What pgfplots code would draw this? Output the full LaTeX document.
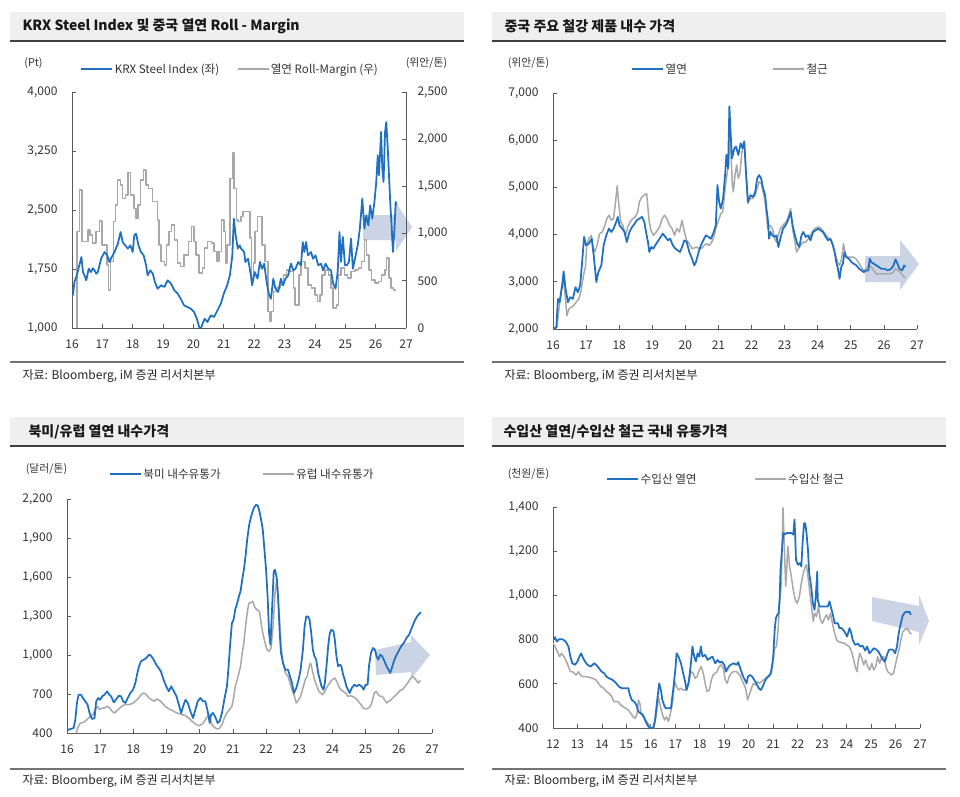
\documentclass[border=0pt]{standalone}
\usepackage{fontspec}
\setmainfont{Noto Sans CJK KR}
\usepackage{pgfplots}
\pgfplotsset{compat=1.18}
\definecolor{cblue}{HTML}{1F70C1}
\definecolor{cgray}{HTML}{A8A8A8}
\definecolor{axgray}{HTML}{595959}
\definecolor{titlebg}{HTML}{EFEFEF}
\definecolor{arrowc}{HTML}{CAD4E4}
\definecolor{lbl}{HTML}{333333}
\pgfplotsset{
  base/.style={
    scale only axis, anchor=south west,
    axis line style={axgray, line width=0.8pt, -},
    tick style={axgray, line width=0.8pt}, tick align=inside, major tick length=4pt,
    ticklabel style={font=\fontsize{12}{14}\selectfont, text=lbl},
    /pgf/number format/assume math mode=true,
    /pgf/number format/1000 sep={,},
    xticklabel style={yshift=-8pt},
    clip=true,
    legend columns=2,
    legend image code/.code={\draw[##1] (0pt,0pt) -- (31pt,0pt);},
    legend style={draw=none, fill=none, inner sep=0pt, nodes={inner sep=1.5pt}, anchor=west,
      font=\fontsize{11.6}{13}\selectfont, text=lbl},
  },
  lefty/.style={axis x line*=bottom, axis y line*=left, yticklabel style={xshift=-11pt}},
  blueline/.style={cblue, line width=1.75pt, line join=round},
  grayline/.style={cgray, line width=1.5pt, line join=round},
}
\newcommand{\ttl}[2]{\node[anchor=west, font=\bfseries\fontsize{14}{16}\selectfont, text=black!90] at #1 {#2};}
\newcommand{\src}[1]{\node[anchor=west, font=\fontsize{12}{14}\selectfont, text=black!85] at #1 {자료: Bloomberg, iM 증권 리서치본부};}
\newcommand{\unit}[2]{\node[font=\fontsize{10.8}{12}\selectfont, text=lbl] at #1 {#2};}
\begin{document}
\begin{tikzpicture}
\useasboundingbox (0,0) rectangle (960pt,-796pt);
\fill[white] (0,0) rectangle (960pt,-796pt);
% title boxes and separators
\fill[titlebg] (10pt,-12pt) rectangle (463.5pt,-41pt);
\fill[titlebg] (492pt,-12pt) rectangle (945.5pt,-41pt);
\fill[titlebg] (10pt,-417pt) rectangle (463.5pt,-446pt);
\fill[titlebg] (492pt,-417pt) rectangle (945.5pt,-446pt);
\draw[black!75, line width=1.4pt] (10pt,-41pt) -- (463.5pt,-41pt);
\draw[black!75, line width=1.4pt] (492pt,-41pt) -- (945.5pt,-41pt);
\draw[black!75, line width=1.4pt] (10pt,-446pt) -- (463.5pt,-446pt);
\draw[black!75, line width=1.4pt] (492pt,-446pt) -- (945.5pt,-446pt);
\draw[black!55, line width=1.1pt] (10pt,-362pt) -- (463.5pt,-362pt);
\draw[black!55, line width=1.1pt] (492pt,-362pt) -- (945.5pt,-362pt);
\draw[black!55, line width=1.1pt] (10pt,-769pt) -- (463.5pt,-769pt);
\draw[black!55, line width=1.1pt] (492pt,-769pt) -- (945.5pt,-769pt);
\ttl{(19pt,-26pt)}{KRX Steel Index 및 중국 열연 Roll - Margin}
\ttl{(501pt,-26pt)}{중국 주요 철강 제품 내수 가격}
\ttl{(25pt,-432pt)}{북미/유럽 열연 내수가격}
\ttl{(500pt,-432pt)}{수입산 열연/수입산 철근 국내 유통가격}
\src{(19pt,-376pt)}
\src{(501pt,-376pt)}
\src{(19pt,-781pt)}
\src{(501pt,-781pt)}
\unit{(33.5pt,-63pt)}{(Pt)}
\unit{(426.5pt,-63pt)}{(위안/톤)}
\unit{(528.5pt,-63pt)}{(위안/톤)}
\unit{(46.5pt,-469pt)}{(달러/톤)}
\unit{(528.5pt,-474pt)}{(천원/톤)}
% arrows
\fill[arrowc] (363pt,-215pt) -- (396pt,-215pt) -- (396pt,-203pt) -- (412pt,-227pt) -- (396pt,-251pt) -- (396pt,-240pt) -- (363pt,-240pt) -- cycle;
\fill[arrowc] (865pt,-256pt) -- (900pt,-256pt) -- (900pt,-240pt) -- (919pt,-264pt) -- (900pt,-290pt) -- (900pt,-282pt) -- (865pt,-282pt) -- cycle;
\fill[arrowc] (375pt,-650pt) -- (411pt,-642pt) -- (411pt,-635pt) -- (430pt,-655pt) -- (411pt,-679pt) -- (411pt,-672pt) -- (376pt,-675pt) -- cycle;
\fill[arrowc] (872pt,-597pt) -- (919pt,-606pt) -- (919pt,-595pt) -- (929pt,-621pt) -- (919pt,-645pt) -- (919pt,-632pt) -- (872pt,-621pt) -- cycle;

% ---------------- Panel 1 : right axis (Roll-Margin)
\begin{axis}[base, at={(72pt,-328pt)}, width=334pt, height=236pt,
  xmin=16, xmax=27, ymin=0, ymax=2500, ytick={0,500,...,2500},
  axis x line=none, axis y line*=right, yticklabel style={xshift=8pt}]
\addplot[grayline, const plot] coordinates {
(16.15,0) (16.16,1021) (16.25,1461) (16.33,915) (16.52,1039) (16.6,986) (16.68,898) (16.79,1021) (16.91,1134) (16.99,880) (17.16,669) (17.2,405) (17.26,704) (17.37,1127) (17.43,1303) (17.5,1567) (17.59,1514) (17.67,1373) (17.76,1408) (17.85,1648) (17.93,1408) (18.04,1268) (18.11,1162) (18.17,1303) (18.25,1567) (18.36,1672) (18.44,1514) (18.52,1479) (18.65,1338) (18.73,1338) (18.82,1144) (18.87,880) (18.93,704) (19.04,669) (19.11,880) (19.2,1021) (19.28,1092) (19.37,933) (19.48,687) (19.58,651) (19.69,775) (19.83,915) (19.93,1074) (20.02,915) (20.08,775) (20.19,581) (20.3,634) (20.37,845) (20.46,915) (20.59,898) (20.68,810) (20.77,704) (20.84,810) (20.92,1144) (21.01,1021) (21.06,687) (21.11,880) (21.2,1584) (21.28,1853) (21.34,1479) (21.42,1144) (21.47,1127) (21.56,1180) (21.63,1232) (21.86,951) (21.91,528) (21.97,687) (22.02,1021) (22.11,1180) (22.26,880) (22.35,704) (22.46,176) (22.52,70) (22.57,176) (22.63,387) (22.74,422) (22.85,458) (22.96,563) (23.07,616) (23.18,599) (23.29,422) (23.34,246) (23.47,563) (23.54,704) (23.67,634) (23.78,458) (23.89,422) (24.0,352) (24.09,282) (24.16,352) (24.24,563) (24.33,616) (24.44,563) (24.53,422) (24.6,211) (24.71,246) (24.77,563) (24.86,634) (24.97,563) (25.08,528) (25.19,599) (25.32,616) (25.43,634) (25.54,704) (25.63,933) (25.7,775) (25.78,616) (25.87,511) (25.98,475) (26.09,493) (26.2,563) (26.31,616) (26.36,739) (26.44,528) (26.51,422) (26.58,405) (26.66,394)
};
\end{axis}
% ---------------- Panel 1 : left axis (KRX)
\begin{axis}[base, lefty, at={(72pt,-328pt)}, width=334pt, height=236pt,
  xmin=16, xmax=27, ymin=1000, ymax=4000, xtick={16,...,27}, ytick={1000,1750,2500,3250,4000},
  legend style={at={(0.025,1.0975)}, /tikz/every even column/.append style={column sep=16pt}}]
\addplot[blueline] coordinates {
(16.03,1415) (16.08,1585) (16.14,1650) (16.2,1733) (16.31,1903) (16.36,1712) (16.42,1660) (16.47,1606) (16.55,1754) (16.63,1712) (16.69,1760) (16.74,1733) (16.8,1690) (16.85,1712) (16.96,1881) (17.07,1966) (17.16,1924) (17.23,1839) (17.31,1903) (17.4,1966) (17.51,2072) (17.6,2220) (17.67,2093) (17.75,2051) (17.84,2009) (17.92,2051) (18.0,1966) (18.05,2178) (18.11,2199) (18.19,2051) (18.27,1966) (18.36,1924) (18.44,1797) (18.49,1670) (18.58,1733) (18.66,1691) (18.73,1585) (18.82,1500) (18.93,1543) (19.04,1522) (19.15,1606) (19.26,1564) (19.37,1479) (19.48,1437) (19.58,1373) (19.69,1288) (19.8,1267) (19.91,1246) (20.02,1203) (20.11,1119) (20.19,1013) (20.24,990) (20.3,1055) (20.37,1119) (20.46,1076) (20.57,1161) (20.68,1140) (20.79,1224) (20.9,1309) (21.0,1437) (21.11,1543) (21.2,1670) (21.28,1924) (21.33,2390) (21.39,2178) (21.46,2009) (21.52,2051) (21.57,2009) (21.67,1966) (21.71,1839) (21.8,1881) (21.89,1670) (21.93,1543) (22.02,1712) (22.11,1627) (22.19,1839) (22.26,1754) (22.33,1818) (22.41,1585) (22.48,1437) (22.55,1373) (22.63,1627) (22.7,1500) (22.79,1458) (22.88,1627) (22.95,1543) (23.03,1627) (23.12,1670) (23.21,1818) (23.29,1733) (23.36,1754) (23.45,1839) (23.54,1797) (23.6,2093) (23.65,1966) (23.71,2093) (23.77,1924) (23.87,1966) (23.94,1881) (24.02,1924) (24.11,1797) (24.2,1818) (24.27,1733) (24.35,1818) (24.44,1754) (24.53,1733) (24.6,1564) (24.68,1500) (24.75,1712) (24.81,2220) (24.86,1839) (24.92,2157) (24.99,1797) (25.05,1797) (25.12,1839) (25.19,2136) (25.25,1754) (25.32,1881) (25.41,2051) (25.48,2263) (25.56,2644) (25.63,2263) (25.69,2432) (25.76,2305) (25.82,2559) (25.89,2390) (25.96,2602) (26.02,2856) (26.07,3195) (26.11,2941) (26.18,3492) (26.22,3025) (26.26,2856) (26.31,3492) (26.35,3619) (26.4,3280) (26.44,2941) (26.48,2602) (26.53,2263) (26.57,1966) (26.62,2263) (26.66,2602) (26.69,2559)
};
\addlegendentry{KRX Steel Index (좌)}
\addlegendimage{grayline}
\addlegendentry{열연 Roll-Margin (우)}
\end{axis}

% ---------------- Panel 2
\begin{axis}[base, lefty, at={(553pt,-329pt)}, width=364pt, height=236pt,
  xmin=16, xmax=27, ymin=2000, ymax=7000, xtick={16,...,27}, ytick={2000,3000,...,7000},
  legend style={at={(0.215,1.1017)}, /tikz/every even column/.append style={column sep=84pt}}]
\addplot[grayline, forget plot] coordinates {
(16.0,2000) (16.12,2035) (16.18,2425) (16.25,2851) (16.3,3064) (16.35,2851) (16.42,2284) (16.48,2425) (16.55,2461) (16.62,2496) (16.7,2567) (16.78,2638) (16.85,2815) (16.92,3134) (16.98,3312) (17.02,3773) (17.08,3914) (17.16,3985) (17.21,3737) (17.26,3631) (17.33,3773) (17.41,4021) (17.49,4056) (17.57,4198) (17.63,4340) (17.69,4411) (17.76,4304) (17.83,4340) (17.89,4694) (17.94,5035) (17.99,4623) (18.05,4269) (18.11,4198) (18.19,3985) (18.26,4162) (18.33,4269) (18.41,4340) (18.49,4375) (18.56,4481) (18.61,4694) (18.69,4800) (18.76,4836) (18.83,4871) (18.87,4552) (18.91,4269) (18.96,4092) (19.03,3985) (19.12,4056) (19.22,4162) (19.3,4340) (19.37,4411) (19.44,4340) (19.52,4198) (19.6,4127) (19.67,3985) (19.74,4127) (19.82,4056) (19.9,4304) (19.97,4056) (20.04,3879) (20.12,3808) (20.2,3702) (20.27,3716) (20.34,3737) (20.42,3702) (20.5,3716) (20.57,3773) (20.64,3808) (20.72,3773) (20.8,3843) (20.87,3985) (20.92,4127) (20.97,4233) (21.02,4340) (21.07,4446) (21.13,4481) (21.18,4836) (21.23,5120) (21.28,5403) (21.31,5474) (21.35,6183) (21.42,5049) (21.45,4907) (21.5,5261) (21.55,5474) (21.6,5190) (21.65,5297) (21.7,5687) (21.75,5935) (21.78,5985) (21.83,5332) (21.89,4659) (21.95,4765) (22.03,4765) (22.11,4836) (22.17,4978) (22.23,5120) (22.29,5084) (22.35,4907) (22.41,4694) (22.45,4411) (22.49,4127) (22.55,4198) (22.63,4127) (22.7,3914) (22.75,3843) (22.81,3985) (22.87,4127) (22.95,4198) (23.05,4269) (23.11,4375) (23.18,4552) (23.24,4127) (23.31,3843) (23.36,3631) (23.42,3702) (23.48,3773) (23.56,3843) (23.64,3843) (23.72,3914) (23.78,3985) (23.86,4092) (23.94,4141) (24.02,4162) (24.11,4127) (24.18,4056) (24.26,3985) (24.34,3914) (24.41,3879) (24.48,3702) (24.54,3560) (24.6,3418) (24.66,3347) (24.72,3489) (24.78,3808) (24.84,3560) (24.91,3524) (24.98,3524) (25.07,3524) (25.15,3489) (25.23,3418) (25.31,3312) (25.39,3241) (25.47,3276) (25.55,3347) (25.62,3312) (25.69,3241) (25.77,3170) (25.87,3170) (25.97,3170) (26.07,3170) (26.17,3170) (26.27,3191) (26.35,3276) (26.42,3241) (26.49,3205) (26.55,3149) (26.61,3099) (26.65,3085)
};
\addplot[blueline] coordinates {
(16.0,2000) (16.1,2035) (16.15,2638) (16.2,2567) (16.28,2922) (16.32,3220) (16.38,2851) (16.45,2567) (16.52,2674) (16.6,2638) (16.68,2886) (16.75,2780) (16.82,2922) (16.88,3418) (16.94,3950) (17.0,3773) (17.08,3808) (17.17,3914) (17.23,3560) (17.31,2993) (17.37,3205) (17.46,3347) (17.53,3773) (17.61,3985) (17.69,4127) (17.76,4056) (17.83,4127) (17.91,4269) (17.96,4375) (18.01,4198) (18.09,4127) (18.16,4056) (18.23,3843) (18.31,4056) (18.39,4162) (18.47,4233) (18.53,4304) (18.61,4340) (18.69,4375) (18.76,4269) (18.81,4056) (18.87,3843) (18.91,3631) (18.97,3737) (19.03,3702) (19.12,3808) (19.22,3914) (19.32,4021) (19.4,3950) (19.47,3879) (19.54,3914) (19.62,3773) (19.7,3702) (19.77,3666) (19.84,3631) (19.92,3773) (19.97,3879) (20.04,3843) (20.12,3631) (20.2,3489) (20.27,3347) (20.32,3418) (20.4,3631) (20.47,3773) (20.54,3879) (20.62,3985) (20.7,3950) (20.77,3914) (20.84,4021) (20.92,4198) (20.97,5049) (21.02,4694) (21.07,4552) (21.14,4765) (21.2,5261) (21.24,5687) (21.29,5403) (21.33,6715) (21.36,6254) (21.41,5616) (21.48,5829) (21.53,5864) (21.6,5687) (21.67,5935) (21.73,5829) (21.78,5970) (21.83,5332) (21.89,4694) (21.97,4836) (22.05,4800) (22.11,4907) (22.17,5190) (22.23,5261) (22.29,5190) (22.35,4978) (22.41,4836) (22.45,4552) (22.49,4340) (22.53,3914) (22.57,4056) (22.63,3985) (22.69,3950) (22.75,3985) (22.81,3737) (22.87,3914) (22.95,4127) (23.03,4198) (23.1,4304) (23.18,4481) (23.24,4198) (23.31,3985) (23.38,3808) (23.44,3737) (23.51,3985) (23.56,4056) (23.64,3950) (23.71,3985) (23.78,3879) (23.86,4056) (23.94,4092) (24.01,4127) (24.08,4092) (24.16,4056) (24.24,3950) (24.31,3879) (24.38,3914) (24.46,3773) (24.51,3631) (24.56,3418) (24.61,3276) (24.66,3064) (24.71,3312) (24.76,3383) (24.81,3631) (24.86,3524) (24.94,3489) (25.02,3418) (25.09,3383) (25.17,3347) (25.25,3276) (25.32,3241) (25.39,3205) (25.47,3241) (25.53,3241) (25.57,3489) (25.62,3418) (25.69,3383) (25.77,3347) (25.85,3312) (25.92,3276) (26.02,3276) (26.12,3241) (26.22,3276) (26.29,3347) (26.35,3475) (26.41,3383) (26.47,3276) (26.55,3241) (26.61,3347) (26.65,3312)
};
\addlegendentry{열연}
\addlegendimage{grayline}
\addlegendentry{철근}
\end{axis}

% ---------------- Panel 3
\begin{axis}[base, lefty, at={(67pt,-733pt)}, width=365pt, height=234pt,
  xmin=16, xmax=27, ymin=400, ymax=2200, xtick={16,...,27}, ytick={400,700,...,2200},
  legend style={at={(0.115,1.107)}, /tikz/every even column/.append style={column sep=40pt}}]
\addplot[grayline, forget plot] coordinates {
(16.28,400) (16.32,438) (16.4,477) (16.5,482) (16.6,503) (16.7,528) (16.78,541) (16.85,580) (16.92,605) (16.98,580) (17.06,592) (17.13,592) (17.21,605) (17.29,592) (17.36,567) (17.43,554) (17.51,574) (17.59,592) (17.67,610) (17.76,618) (17.86,618) (17.96,626) (18.06,644) (18.16,669) (18.23,695) (18.31,708) (18.39,695) (18.47,669) (18.55,656) (18.63,644) (18.71,662) (18.79,651) (18.87,631) (18.96,605) (19.07,585) (19.17,574) (19.27,559) (19.37,549) (19.47,541) (19.57,533) (19.67,515) (19.77,490) (19.87,469) (19.97,456) (20.05,464) (20.12,482) (20.2,515) (20.27,541) (20.32,503) (20.37,464) (20.44,444) (20.52,431) (20.6,436) (20.67,464) (20.74,515) (20.82,554) (20.9,580) (20.97,605) (21.02,669) (21.07,759) (21.13,810) (21.18,862) (21.23,913) (21.28,1015) (21.33,1092) (21.38,1220) (21.43,1323) (21.48,1400) (21.52,1400) (21.6,1413) (21.67,1361) (21.73,1349) (21.8,1336) (21.85,1246) (21.9,1169) (21.97,1092) (22.03,1041) (22.09,1028) (22.15,1054) (22.21,1220) (22.27,1477) (22.31,1567) (22.35,1477) (22.4,1297) (22.45,1067) (22.51,938) (22.58,862) (22.66,836) (22.72,785) (22.78,733) (22.84,695) (22.91,631) (22.98,656) (23.04,682) (23.11,746) (23.18,810) (23.24,836) (23.3,913) (23.34,938) (23.39,887) (23.46,810) (23.53,759) (23.59,721) (23.65,708) (23.71,695) (23.77,721) (23.85,759) (23.92,785) (23.99,810) (24.07,823) (24.13,797) (24.19,759) (24.25,733) (24.32,721) (24.39,708) (24.47,682) (24.55,687) (24.63,677) (24.7,669) (24.78,644) (24.86,618) (24.93,592) (25.0,585) (25.08,592) (25.14,605) (25.2,644) (25.26,708) (25.32,721) (25.38,695) (25.44,682) (25.5,682) (25.57,656) (25.63,631) (25.69,644) (25.75,651) (25.81,669) (25.89,687) (25.97,708) (26.04,728) (26.11,733) (26.19,759) (26.27,785) (26.34,815) (26.41,836) (26.47,823) (26.55,797) (26.6,785) (26.65,805)
};
\addplot[blueline] coordinates {
(16.0,420) (16.1,431) (16.2,438) (16.25,503) (16.3,631) (16.35,695) (16.42,695) (16.48,669) (16.55,644) (16.62,618) (16.68,554) (16.75,508) (16.83,515) (16.88,644) (16.94,669) (17.0,656) (17.06,682) (17.13,695) (17.21,721) (17.27,695) (17.33,682) (17.41,636) (17.49,662) (17.56,687) (17.63,682) (17.69,644) (17.76,631) (17.83,669) (17.91,708) (17.99,733) (18.06,785) (18.11,849) (18.17,913) (18.23,951) (18.31,964) (18.39,977) (18.47,1003) (18.53,995) (18.61,964) (18.69,926) (18.76,900) (18.83,874) (18.91,810) (18.99,759) (19.07,721) (19.14,759) (19.22,721) (19.3,682) (19.37,618) (19.44,554) (19.5,605) (19.57,656) (19.64,631) (19.72,567) (19.8,515) (19.87,580) (19.94,644) (20.02,669) (20.1,644) (20.17,644) (20.24,567) (20.3,477) (20.34,541) (20.4,554) (20.47,523) (20.54,477) (20.6,490) (20.67,554) (20.74,656) (20.82,759) (20.87,913) (20.92,1092) (20.97,1246) (21.02,1272) (21.07,1349) (21.13,1400) (21.18,1451) (21.23,1490) (21.28,1579) (21.33,1656) (21.38,1759) (21.43,1887) (21.49,2002) (21.55,2067) (21.63,2131) (21.7,2156) (21.75,2149) (21.8,2105) (21.85,2041) (21.9,1964) (21.95,1810) (22.0,1656) (22.05,1426) (22.09,1169) (22.13,1079) (22.17,1297) (22.23,1644) (22.27,1656) (22.33,1579) (22.37,1400) (22.41,1169) (22.45,1015) (22.51,938) (22.58,887) (22.66,887) (22.72,836) (22.78,785) (22.84,708) (22.91,746) (22.98,810) (23.04,887) (23.11,1041) (23.16,1220) (23.21,1297) (23.26,1297) (23.31,1272) (23.36,1169) (23.41,1041) (23.46,990) (23.51,964) (23.57,862) (23.62,810) (23.67,759) (23.73,733) (23.77,785) (23.82,913) (23.87,1067) (23.92,1169) (23.97,1195) (24.03,1182) (24.07,1118) (24.12,990) (24.17,913) (24.22,926) (24.27,913) (24.32,849) (24.37,810) (24.42,759) (24.47,733) (24.52,708) (24.58,746) (24.66,772) (24.73,759) (24.8,772) (24.88,759) (24.94,733) (25.0,772) (25.06,772) (25.1,913) (25.16,1015) (25.22,1054) (25.28,1041) (25.33,990) (25.38,964) (25.44,1003) (25.5,990) (25.57,951) (25.63,913) (25.69,887) (25.74,862) (25.79,900) (25.85,951) (25.91,990) (25.99,1028) (26.07,1067) (26.15,1092) (26.23,1131) (26.31,1156) (26.39,1208) (26.47,1259) (26.55,1297) (26.62,1318) (26.67,1328)
};
\addlegendentry{북미 내수유통가}
\addlegendimage{grayline}
\addlegendentry{유럽 내수유통가}
\end{axis}

% ---------------- Panel 4
\begin{axis}[base, lefty, at={(553pt,-728pt)}, width=367pt, height=221pt,
  xmin=12, xmax=27, ymin=400, ymax=1400, xtick={12,...,27}, ytick={400,600,...,1400},
  legend style={at={(0.145,1.1267)}, /tikz/every even column/.append style={column sep=56pt}}]
\addplot[grayline, forget plot] coordinates {
(12.0,784) (12.08,769) (12.18,746) (12.27,723) (12.35,738) (12.45,723) (12.55,701) (12.63,678) (12.71,655) (12.79,655) (12.87,648) (12.95,640) (13.04,655) (13.12,640) (13.2,633) (13.34,633) (13.47,630) (13.61,625) (13.75,618) (13.86,602) (13.96,587) (14.07,580) (14.18,565) (14.29,557) (14.4,542) (14.49,519) (14.56,519) (14.67,519) (14.77,504) (14.86,497) (14.97,489) (15.08,482) (15.18,466) (15.27,451) (15.36,444) (15.44,466) (15.49,527) (15.55,512) (15.6,466) (15.68,451) (15.79,436) (15.9,418) (16.0,400) (16.13,400) (16.23,466) (16.31,542) (16.39,497) (16.48,459) (16.56,436) (16.64,451) (16.72,429) (16.8,466) (16.88,512) (16.97,610) (17.05,587) (17.13,572) (17.23,580) (17.32,572) (17.4,572) (17.48,587) (17.57,618) (17.65,655) (17.73,648) (17.81,625) (17.89,633) (17.98,663) (18.06,678) (18.14,648) (18.22,602) (18.3,565) (18.39,572) (18.47,618) (18.55,640) (18.63,648) (18.71,655) (18.79,678) (18.88,686) (18.96,670) (19.04,618) (19.12,602) (19.2,633) (19.29,648) (19.37,655) (19.5,655) (19.63,640) (19.72,618) (19.81,595) (19.89,572) (19.95,527) (20.03,550) (20.11,580) (20.19,602) (20.27,595) (20.35,610) (20.43,602) (20.52,610) (20.6,618) (20.68,625) (20.76,633) (20.84,633) (20.92,648) (21.0,708) (21.06,761) (21.13,769) (21.2,844) (21.26,965) (21.33,1056) (21.4,1396) (21.45,1237) (21.51,1041) (21.56,1131) (21.6,1222) (21.67,1131) (21.74,1086) (21.82,1025) (21.9,980) (21.98,965) (22.07,995) (22.15,1056) (22.23,1101) (22.31,1131) (22.36,1139) (22.42,1086) (22.5,1010) (22.58,935) (22.64,882) (22.69,920) (22.77,905) (22.85,950) (22.93,889) (23.01,874) (23.1,897) (23.18,912) (23.26,889) (23.34,920) (23.42,874) (23.51,829) (23.59,799) (23.67,791) (23.78,787) (23.89,784) (24.0,776) (24.1,769) (24.18,753) (24.26,723) (24.35,678) (24.43,655) (24.48,708) (24.54,738) (24.62,716) (24.7,686) (24.78,708) (24.86,678) (24.95,663) (25.03,693) (25.11,663) (25.19,678) (25.27,723) (25.35,693) (25.44,723) (25.52,723) (25.6,678) (25.68,655) (25.76,648) (25.84,640) (25.92,648) (26.01,693) (26.07,723) (26.14,753) (26.22,799) (26.3,837) (26.38,844) (26.47,852) (26.55,837) (26.6,829) (26.66,826)
};
\addplot[blueline] coordinates {
(12.0,799) (12.08,811) (12.16,791) (12.25,802) (12.38,802) (12.52,791) (12.63,769) (12.71,723) (12.79,693) (12.9,686) (13.0,701) (13.09,726) (13.15,738) (13.23,716) (13.31,701) (13.41,686) (13.54,678) (13.68,693) (13.77,686) (13.88,670) (13.99,655) (14.09,648) (14.18,633) (14.29,625) (14.43,618) (14.56,605) (14.7,587) (14.81,580) (14.95,580) (15.08,580) (15.14,550) (15.22,527) (15.32,519) (15.41,504) (15.49,474) (15.59,466) (15.68,459) (15.79,429) (15.9,406) (16.0,400) (16.09,400) (16.17,436) (16.26,527) (16.34,602) (16.41,572) (16.47,527) (16.54,504) (16.61,489) (16.72,489) (16.82,489) (16.91,572) (17.0,663) (17.05,738) (17.13,723) (17.23,693) (17.32,648) (17.4,610) (17.46,572) (17.54,602) (17.63,686) (17.7,769) (17.77,723) (17.84,701) (17.91,738) (17.98,723) (18.04,769) (18.11,723) (18.22,731) (18.32,708) (18.41,716) (18.52,723) (18.63,693) (18.73,708) (18.82,696) (18.9,701) (19.0,686) (19.07,655) (19.18,678) (19.27,686) (19.37,693) (19.5,686) (19.57,698) (19.63,678) (19.7,655) (19.77,633) (19.84,618) (19.91,602) (19.97,633) (20.05,640) (20.14,633) (20.22,618) (20.31,602) (20.41,580) (20.49,572) (20.57,587) (20.65,610) (20.73,625) (20.82,636) (20.9,648) (20.95,678) (21.0,723) (21.06,844) (21.11,897) (21.17,912) (21.22,920) (21.26,980) (21.3,1116) (21.36,1207) (21.41,1282) (21.47,1275) (21.54,1282) (21.6,1282) (21.74,1282) (21.82,1275) (21.87,1343) (21.9,1267) (21.93,1161) (22.01,1139) (22.09,1146) (22.15,1131) (22.2,1237) (22.26,1327) (22.31,1327) (22.36,1282) (22.42,1207) (22.47,1101) (22.55,1041) (22.62,965) (22.69,935) (22.74,995) (22.8,1108) (22.82,980) (22.89,950) (22.96,950) (23.1,950) (23.23,950) (23.3,973) (23.37,942) (23.44,912) (23.51,874) (23.64,874) (23.71,852) (23.8,852) (23.91,837) (24.02,814) (24.12,852) (24.19,829) (24.25,799) (24.35,776) (24.46,781) (24.57,769) (24.66,772) (24.76,750) (24.84,769) (24.93,738) (25.0,746) (25.11,761) (25.2,756) (25.3,746) (25.41,723) (25.49,708) (25.57,701) (25.65,731) (25.73,753) (25.82,756) (25.9,753) (25.98,738) (26.06,769) (26.11,814) (26.17,852) (26.22,874) (26.28,905) (26.36,920) (26.43,927) (26.49,923) (26.56,927) (26.63,912)
};
\addlegendentry{수입산 열연}
\addlegendimage{grayline}
\addlegendentry{수입산 철근}
\end{axis}
\end{tikzpicture}
\end{document}
